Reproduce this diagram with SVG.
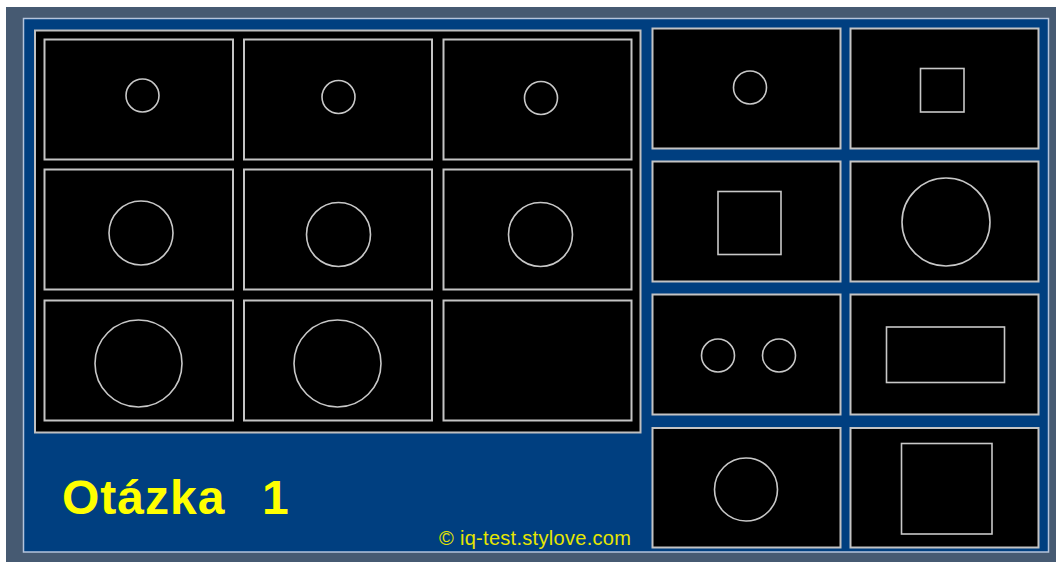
<svg xmlns="http://www.w3.org/2000/svg" width="1056" height="562" viewBox="0 0 1056 562">
<style>
.cell{fill:#000;stroke:#c4c4c4;stroke-width:2}
.shape{fill:none;stroke:#c8c8c8;stroke-width:1.6}
.title{font-family:"Liberation Sans",Arial,sans-serif;font-weight:bold;font-size:48px;fill:#ffff00;letter-spacing:1px}
.copy{font-family:"Liberation Sans",Arial,sans-serif;font-size:20px;fill:#e6e600;letter-spacing:0.3px}
</style>
<rect x="0" y="0" width="1056" height="562" fill="#ffffff"/>
<rect x="6" y="7" width="1050" height="555" fill="#465a72"/>
<rect x="23.5" y="18.5" width="1025" height="533.5" fill="#003f80" stroke="#b4c4dc" stroke-width="1.5"/>
<rect id="question-panel" x="35" y="30.5" width="605.5" height="402" fill="#000" stroke="#c0c0c0" stroke-width="2"/>

<g id="q11"><rect class="cell" x="44.5" y="39.5" width="188.5" height="120"/><circle class="shape" cx="142.5" cy="95.5" r="16.5"/></g>
<g id="q12"><rect class="cell" x="244" y="39.5" width="188" height="120"/><circle class="shape" cx="338.5" cy="97" r="16.5"/></g>
<g id="q13"><rect class="cell" x="443.5" y="39.5" width="188" height="120"/><circle class="shape" cx="541" cy="98" r="16.5"/></g>

<g id="q21"><rect class="cell" x="44.5" y="169.5" width="188.5" height="120"/><circle class="shape" cx="141" cy="233" r="32"/></g>
<g id="q22"><rect class="cell" x="244" y="169.5" width="188" height="120"/><circle class="shape" cx="338.5" cy="234.5" r="32"/></g>
<g id="q23"><rect class="cell" x="443.5" y="169.5" width="188" height="120"/><circle class="shape" cx="540.5" cy="234.5" r="32"/></g>

<g id="q31"><rect class="cell" x="44.5" y="300.5" width="188.5" height="120"/><circle class="shape" cx="138.5" cy="363.5" r="43.5"/></g>
<g id="q32"><rect class="cell" x="244" y="300.5" width="188" height="120"/><circle class="shape" cx="337.5" cy="363.5" r="43.5"/></g>
<g id="q33"><rect class="cell" x="443.5" y="300.5" width="188" height="120"/></g>

<g id="a1"><rect class="cell" x="652.5" y="28.5" width="188" height="120"/><circle class="shape" cx="750" cy="87.5" r="16.5"/></g>
<g id="a2"><rect class="cell" x="850.5" y="28.5" width="188" height="120"/><rect class="shape" x="920.5" y="68.5" width="43.5" height="43.5"/></g>
<g id="a3"><rect class="cell" x="652.5" y="161.5" width="188" height="120"/><rect class="shape" x="718" y="191.5" width="63" height="63"/></g>
<g id="a4"><rect class="cell" x="850.5" y="161.5" width="188" height="120"/><circle class="shape" cx="946" cy="222" r="44"/></g>
<g id="a5"><rect class="cell" x="652.5" y="294.5" width="188" height="120"/><circle class="shape" cx="718" cy="355.5" r="16.5"/><circle class="shape" cx="779" cy="355.5" r="16.5"/></g>
<g id="a6"><rect class="cell" x="850.5" y="294.5" width="188" height="120"/><rect class="shape" x="886.5" y="327" width="118" height="55.5"/></g>
<g id="a7"><rect class="cell" x="652.5" y="428" width="188" height="119.5"/><circle class="shape" cx="746" cy="489.5" r="31.5"/></g>
<g id="a8"><rect class="cell" x="850.5" y="428" width="188" height="119.5"/><rect class="shape" x="901.5" y="443.5" width="90.5" height="90.5"/></g>

<g id="connectors"></g>

<text class="title" x="62" y="514">Otázka <tspan x="262">1</tspan></text>
<text class="copy" x="439" y="545">© iq-test.stylove.com</text>
</svg>
